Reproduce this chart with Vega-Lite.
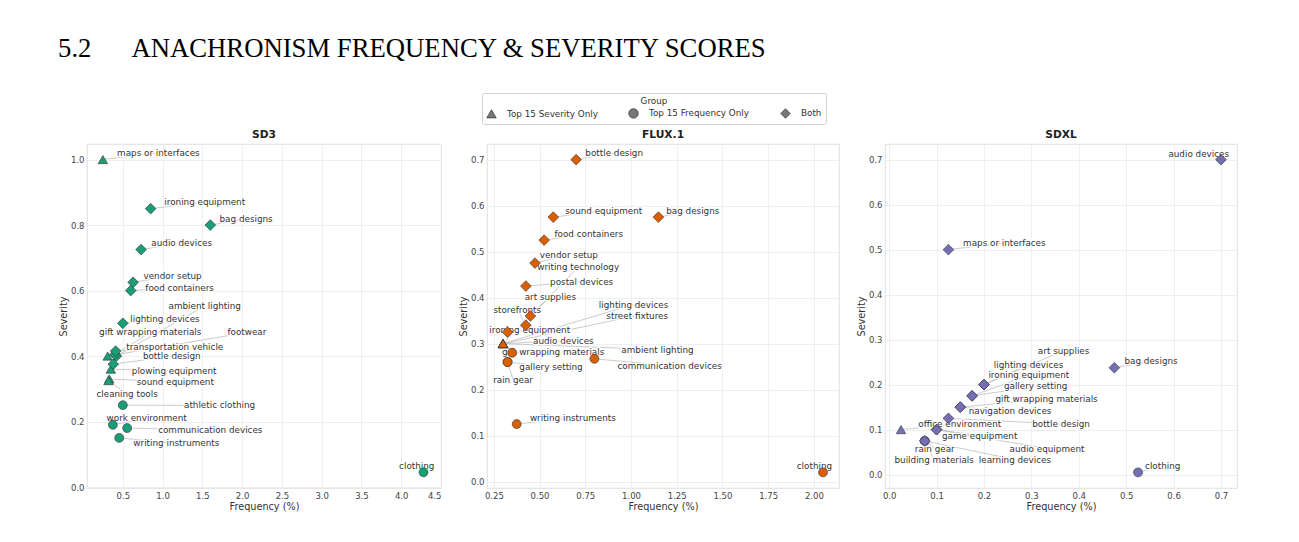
{
  "$schema": "https://vega.github.io/schema/vega-lite/v6.json",
  "background": "white",
  "padding": {"left": 58, "top": 35, "right": 5, "bottom": 5},
  "title": {"text": "5.2\u00a0\u00a0\u00a0\u00a0\u00a0\u00a0ANACHRONISM FREQUENCY & SEVERITY SCORES", "anchor": "start", "frame": "bounds", "font": "Liberation Serif", "fontSize": 26.7, "fontWeight": "normal", "color": "#000000", "offset": 30},
  "data": {"values": [
    {"model": "SD3", "item": "maps or interfaces", "group": "Top 15 Severity Only", "frequency": 0.25, "severity": 1.0, "label_x": 0.947, "label_y": 1.021},
    {"model": "SD3", "item": "ironing equipment", "group": "Both", "frequency": 0.85, "severity": 0.85, "label_x": 1.53, "label_y": 0.87},
    {"model": "SD3", "item": "bag designs", "group": "Both", "frequency": 1.6, "severity": 0.8, "label_x": 2.05, "label_y": 0.819},
    {"model": "SD3", "item": "audio devices", "group": "Both", "frequency": 0.73, "severity": 0.725, "label_x": 1.24, "label_y": 0.745},
    {"model": "SD3", "item": "vendor setup", "group": "Both", "frequency": 0.63, "severity": 0.625, "label_x": 1.126, "label_y": 0.645},
    {"model": "SD3", "item": "food containers", "group": "Both", "frequency": 0.6, "severity": 0.6, "label_x": 1.214, "label_y": 0.609},
    {"model": "SD3", "item": "lighting devices", "group": "Both", "frequency": 0.5, "severity": 0.5, "label_x": 1.03, "label_y": 0.513},
    {"model": "SD3", "item": "ambient lighting", "group": "Both", "frequency": 0.42, "severity": 0.4, "label_x": 1.53, "label_y": 0.553},
    {"model": "SD3", "item": "gift wrapping materials", "group": "Both", "frequency": 0.4, "severity": 0.405, "label_x": 0.845, "label_y": 0.472},
    {"model": "SD3", "item": "footwear", "group": "Top 15 Severity Only", "frequency": 0.31, "severity": 0.4, "label_x": 2.06, "label_y": 0.472},
    {"model": "SD3", "item": "transportation vehicle", "group": "Both", "frequency": 0.41, "severity": 0.415, "label_x": 1.153, "label_y": 0.429},
    {"model": "SD3", "item": "bottle design", "group": "Both", "frequency": 0.38, "severity": 0.375, "label_x": 1.115, "label_y": 0.4},
    {"model": "SD3", "item": "plowing equipment", "group": "Top 15 Severity Only", "frequency": 0.35, "severity": 0.36, "label_x": 1.145, "label_y": 0.355},
    {"model": "SD3", "item": "sound equipment", "group": "Top 15 Severity Only", "frequency": 0.33, "severity": 0.33, "label_x": 1.16, "label_y": 0.32},
    {"model": "SD3", "item": "cleaning tools", "group": "Top 15 Severity Only", "frequency": 0.32, "severity": 0.325, "label_x": 0.554, "label_y": 0.284},
    {"model": "SD3", "item": "athletic clothing", "group": "Top 15 Frequency Only", "frequency": 0.5, "severity": 0.25, "label_x": 1.716, "label_y": 0.249},
    {"model": "SD3", "item": "work environment", "group": "Top 15 Frequency Only", "frequency": 0.375, "severity": 0.19, "label_x": 0.8, "label_y": 0.2095},
    {"model": "SD3", "item": "communication devices", "group": "Top 15 Frequency Only", "frequency": 0.555, "severity": 0.18, "label_x": 1.6, "label_y": 0.174},
    {"model": "SD3", "item": "writing instruments", "group": "Top 15 Frequency Only", "frequency": 0.455, "severity": 0.15, "label_x": 1.173, "label_y": 0.133},
    {"model": "SD3", "item": "clothing", "group": "Top 15 Frequency Only", "frequency": 4.28, "severity": 0.045, "label_x": 4.195, "label_y": 0.064},

    {"model": "FLUX.1", "item": "bottle design", "group": "Both", "frequency": 0.7, "severity": 0.7, "label_x": 0.908, "label_y": 0.7146},
    {"model": "FLUX.1", "item": "sound equipment", "group": "Both", "frequency": 0.575, "severity": 0.575, "label_x": 0.851, "label_y": 0.589},
    {"model": "FLUX.1", "item": "bag designs", "group": "Both", "frequency": 1.15, "severity": 0.575, "label_x": 1.338, "label_y": 0.589},
    {"model": "FLUX.1", "item": "food containers", "group": "Both", "frequency": 0.525, "severity": 0.525, "label_x": 0.769, "label_y": 0.539},
    {"model": "FLUX.1", "item": "vendor setup", "group": "Both", "frequency": 0.475, "severity": 0.475, "label_x": 0.66, "label_y": 0.493},
    {"model": "FLUX.1", "item": "writing technology", "group": "Top 15 Severity Only", "frequency": 0.3, "severity": 0.3, "label_x": 0.711, "label_y": 0.466},
    {"model": "FLUX.1", "item": "postal devices", "group": "Both", "frequency": 0.425, "severity": 0.425, "label_x": 0.73, "label_y": 0.435},
    {"model": "FLUX.1", "item": "art supplies", "group": "Both", "frequency": 0.45, "severity": 0.36, "label_x": 0.559, "label_y": 0.402},
    {"model": "FLUX.1", "item": "storefronts", "group": "Both", "frequency": 0.425, "severity": 0.34, "label_x": 0.378, "label_y": 0.374},
    {"model": "FLUX.1", "item": "lighting devices", "group": "Top 15 Severity Only", "frequency": 0.3, "severity": 0.3, "label_x": 1.014, "label_y": 0.385},
    {"model": "FLUX.1", "item": "street fixtures", "group": "Top 15 Severity Only", "frequency": 0.3, "severity": 0.3, "label_x": 1.034, "label_y": 0.361},
    {"model": "FLUX.1", "item": "ironing equipment", "group": "Both", "frequency": 0.325, "severity": 0.325, "label_x": 0.446, "label_y": 0.329},
    {"model": "FLUX.1", "item": "audio devices", "group": "Top 15 Severity Only", "frequency": 0.3, "severity": 0.3, "label_x": 0.63, "label_y": 0.3065},
    {"model": "FLUX.1", "item": "gift wrapping materials", "group": "Top 15 Frequency Only", "frequency": 0.35, "severity": 0.28, "label_x": 0.574, "label_y": 0.281},
    {"model": "FLUX.1", "item": "ambient lighting", "group": "Top 15 Severity Only", "frequency": 0.3, "severity": 0.3, "label_x": 1.145, "label_y": 0.287},
    {"model": "FLUX.1", "item": "gallery setting", "group": "Top 15 Frequency Only", "frequency": 0.325, "severity": 0.26, "label_x": 0.5625, "label_y": 0.2485},
    {"model": "FLUX.1", "item": "communication devices", "group": "Top 15 Frequency Only", "frequency": 0.8, "severity": 0.267, "label_x": 1.211, "label_y": 0.252},
    {"model": "FLUX.1", "item": "rain gear", "group": "Top 15 Frequency Only", "frequency": 0.325, "severity": 0.26, "label_x": 0.355, "label_y": 0.2217},
    {"model": "FLUX.1", "item": "writing instruments", "group": "Top 15 Frequency Only", "frequency": 0.375, "severity": 0.125, "label_x": 0.682, "label_y": 0.1385},
    {"model": "FLUX.1", "item": "clothing", "group": "Top 15 Frequency Only", "frequency": 2.05, "severity": 0.02, "label_x": 2.003, "label_y": 0.0348},

    {"model": "SDXL", "item": "audio devices", "group": "Both", "frequency": 0.7, "severity": 0.7, "label_x": 0.653, "label_y": 0.713},
    {"model": "SDXL", "item": "maps or interfaces", "group": "Both", "frequency": 0.125, "severity": 0.5, "label_x": 0.243, "label_y": 0.515},
    {"model": "SDXL", "item": "bag designs", "group": "Both", "frequency": 0.475, "severity": 0.2375, "label_x": 0.5525, "label_y": 0.252},
    {"model": "SDXL", "item": "clothing", "group": "Top 15 Frequency Only", "frequency": 0.525, "severity": 0.005, "label_x": 0.577, "label_y": 0.02},
    {"model": "SDXL", "item": "art supplies", "group": "Both", "frequency": 0.2, "severity": 0.2, "label_x": 0.368, "label_y": 0.2756},
    {"model": "SDXL", "item": "lighting devices", "group": "Both", "frequency": 0.2, "severity": 0.2, "label_x": 0.294, "label_y": 0.2444},
    {"model": "SDXL", "item": "ironing equipment", "group": "Both", "frequency": 0.175, "severity": 0.175, "label_x": 0.2946, "label_y": 0.2207},
    {"model": "SDXL", "item": "gallery setting", "group": "Both", "frequency": 0.175, "severity": 0.175, "label_x": 0.309, "label_y": 0.196},
    {"model": "SDXL", "item": "gift wrapping materials", "group": "Both", "frequency": 0.15, "severity": 0.15, "label_x": 0.332, "label_y": 0.168},
    {"model": "SDXL", "item": "navigation devices", "group": "Both", "frequency": 0.15, "severity": 0.15, "label_x": 0.255, "label_y": 0.1407},
    {"model": "SDXL", "item": "bottle design", "group": "Both", "frequency": 0.125, "severity": 0.125, "label_x": 0.3626, "label_y": 0.1126},
    {"model": "SDXL", "item": "office environment", "group": "Top 15 Severity Only", "frequency": 0.025, "severity": 0.1, "label_x": 0.149, "label_y": 0.1133},
    {"model": "SDXL", "item": "game equipment", "group": "Both", "frequency": 0.1, "severity": 0.1, "label_x": 0.191, "label_y": 0.0867},
    {"model": "SDXL", "item": "audio equipment", "group": "Both", "frequency": 0.1, "severity": 0.1, "label_x": 0.333, "label_y": 0.0578},
    {"model": "SDXL", "item": "rain gear", "group": "Both", "frequency": 0.075, "severity": 0.075, "label_x": 0.0962, "label_y": 0.0578},
    {"model": "SDXL", "item": "building materials", "group": "Top 15 Frequency Only", "frequency": 0.075, "severity": 0.075, "label_x": 0.095, "label_y": 0.0333},
    {"model": "SDXL", "item": "learning devices", "group": "Top 15 Frequency Only", "frequency": 0.075, "severity": 0.075, "label_x": 0.2653, "label_y": 0.0333}
  ]},
  "bounds": "flush",
  "spacing": 46,
  "resolve": {"scale": {"shape": "shared", "fill": "shared"}, "legend": {"shape": "shared"}},
  "hconcat": [
    {
      "width": 354, "height": 344,
      "title": {"text": "SD3"},
      "transform": [{"filter": "datum.model === 'SD3'"}],
      "layer": [
        {"mark": {"type": "rule", "color": "#b5b5b5", "strokeWidth": 0.7},
         "encoding": {
           "x": {"field": "frequency", "type": "quantitative", "scale": {"domain": [0.05, 4.5], "nice": false, "zero": false}, "axis": {"title": "Frequency (%)", "values": [0.5, 1.0, 1.5, 2.0, 2.5, 3.0, 3.5, 4.0, 4.5], "format": ".1f"}},
           "y": {"field": "severity", "type": "quantitative", "scale": {"domain": [-0.003, 1.0475], "nice": false, "zero": false}, "axis": {"title": "Severity", "values": [0, 0.2, 0.4, 0.6, 0.8, 1.0], "format": ".1f"}},
           "x2": {"field": "label_x"}, "y2": {"field": "label_y"}}},
        {"mark": {"type": "text", "stroke": "white", "strokeWidth": 2.5, "strokeJoin": "round", "fill": "white", "fontSize": 8.8, "font": "DejaVu Sans", "align": "center", "baseline": "middle"},
         "encoding": {
           "x": {"field": "label_x", "type": "quantitative", "scale": {"domain": [0.05, 4.5], "nice": false, "zero": false}, "axis": {"title": "Frequency (%)", "values": [0.5, 1.0, 1.5, 2.0, 2.5, 3.0, 3.5, 4.0, 4.5], "format": ".1f"}},
           "y": {"field": "label_y", "type": "quantitative", "scale": {"domain": [-0.003, 1.0475], "nice": false, "zero": false}, "axis": {"title": "Severity", "values": [0, 0.2, 0.4, 0.6, 0.8, 1.0], "format": ".1f"}},
           "text": {"field": "item"}}},
        {"mark": {"type": "text", "fill": "#333333", "fontSize": 8.8, "font": "DejaVu Sans", "align": "center", "baseline": "middle"},
         "encoding": {
           "x": {"field": "label_x", "type": "quantitative", "scale": {"domain": [0.05, 4.5], "nice": false, "zero": false}, "axis": {"title": "Frequency (%)", "values": [0.5, 1.0, 1.5, 2.0, 2.5, 3.0, 3.5, 4.0, 4.5], "format": ".1f"}},
           "y": {"field": "label_y", "type": "quantitative", "scale": {"domain": [-0.003, 1.0475], "nice": false, "zero": false}, "axis": {"title": "Severity", "values": [0, 0.2, 0.4, 0.6, 0.8, 1.0], "format": ".1f"}},
           "text": {"field": "item"}}},
        {"transform": [{"filter": {"field": "group", "equal": "Top 15 Frequency Only"}}],
         "mark": {"type": "point", "filled": true, "stroke": "#333333", "strokeWidth": 0.6, "opacity": 1, "size": 80},
         "encoding": {
           "x": {"field": "frequency", "type": "quantitative", "scale": {"domain": [0.05, 4.5], "nice": false, "zero": false}, "axis": {"title": "Frequency (%)", "values": [0.5, 1.0, 1.5, 2.0, 2.5, 3.0, 3.5, 4.0, 4.5], "format": ".1f"}},
           "y": {"field": "severity", "type": "quantitative", "scale": {"domain": [-0.003, 1.0475], "nice": false, "zero": false}, "axis": {"title": "Severity", "values": [0, 0.2, 0.4, 0.6, 0.8, 1.0], "format": ".1f"}},
           "fill": {"field": "model", "type": "nominal", "scale": {"domain": ["SD3", "FLUX.1", "SDXL"], "range": ["#1b9e77", "#d95f02", "#7570b3"]}, "legend": null},
           "shape": {"field": "group", "type": "nominal", "scale": {"domain": ["Top 15 Severity Only", "Top 15 Frequency Only", "Both"], "range": ["triangle-up", "circle", "diamond"]},
             "legend": {"title": "Group", "orient": "none", "legendX": 395, "legendY": -51, "direction": "horizontal", "titleAnchor": "middle", "titleOrient": "top", "titlePadding": 2, "symbolSize": 90, "symbolFillColor": "#777777", "symbolStrokeColor": "#333333", "symbolStrokeWidth": 0.7, "strokeColor": "#d0d0d0", "fillColor": "white", "padding": 4, "cornerRadius": 2, "columnPadding": 29, "labelOffset": 10}}}},
        {"transform": [{"filter": {"field": "group", "equal": "Top 15 Severity Only"}}],
         "mark": {"type": "point", "filled": true, "stroke": "#333333", "strokeWidth": 0.6, "opacity": 1, "size": 90},
         "encoding": {
           "x": {"field": "frequency", "type": "quantitative", "scale": {"domain": [0.05, 4.5], "nice": false, "zero": false}, "axis": {"title": "Frequency (%)", "values": [0.5, 1.0, 1.5, 2.0, 2.5, 3.0, 3.5, 4.0, 4.5], "format": ".1f"}},
           "y": {"field": "severity", "type": "quantitative", "scale": {"domain": [-0.003, 1.0475], "nice": false, "zero": false}, "axis": {"title": "Severity", "values": [0, 0.2, 0.4, 0.6, 0.8, 1.0], "format": ".1f"}},
           "fill": {"field": "model", "type": "nominal", "scale": {"domain": ["SD3", "FLUX.1", "SDXL"], "range": ["#1b9e77", "#d95f02", "#7570b3"]}, "legend": null},
           "shape": {"field": "group", "type": "nominal", "scale": {"domain": ["Top 15 Severity Only", "Top 15 Frequency Only", "Both"], "range": ["triangle-up", "circle", "diamond"]},
             "legend": {"title": "Group", "orient": "none", "legendX": 395, "legendY": -51, "direction": "horizontal", "titleAnchor": "middle", "titleOrient": "top", "titlePadding": 2, "symbolSize": 90, "symbolFillColor": "#777777", "symbolStrokeColor": "#333333", "symbolStrokeWidth": 0.7, "strokeColor": "#d0d0d0", "fillColor": "white", "padding": 4, "cornerRadius": 2, "columnPadding": 29, "labelOffset": 10}}}},
        {"transform": [{"filter": {"field": "group", "equal": "Both"}}],
         "mark": {"type": "point", "filled": true, "stroke": "#333333", "strokeWidth": 0.6, "opacity": 1, "size": 115},
         "encoding": {
           "x": {"field": "frequency", "type": "quantitative", "scale": {"domain": [0.05, 4.5], "nice": false, "zero": false}, "axis": {"title": "Frequency (%)", "values": [0.5, 1.0, 1.5, 2.0, 2.5, 3.0, 3.5, 4.0, 4.5], "format": ".1f"}},
           "y": {"field": "severity", "type": "quantitative", "scale": {"domain": [-0.003, 1.0475], "nice": false, "zero": false}, "axis": {"title": "Severity", "values": [0, 0.2, 0.4, 0.6, 0.8, 1.0], "format": ".1f"}},
           "fill": {"field": "model", "type": "nominal", "scale": {"domain": ["SD3", "FLUX.1", "SDXL"], "range": ["#1b9e77", "#d95f02", "#7570b3"]}, "legend": null},
           "shape": {"field": "group", "type": "nominal", "scale": {"domain": ["Top 15 Severity Only", "Top 15 Frequency Only", "Both"], "range": ["triangle-up", "circle", "diamond"]},
             "legend": {"title": "Group", "orient": "none", "legendX": 395, "legendY": -51, "direction": "horizontal", "titleAnchor": "middle", "titleOrient": "top", "titlePadding": 2, "symbolSize": 90, "symbolFillColor": "#777777", "symbolStrokeColor": "#333333", "symbolStrokeWidth": 0.7, "strokeColor": "#d0d0d0", "fillColor": "white", "padding": 4, "cornerRadius": 2, "columnPadding": 29, "labelOffset": 10}}}}
      ]
    },
    {
      "width": 352, "height": 344,
      "title": {"text": "FLUX.1"},
      "transform": [{"filter": "datum.model === 'FLUX.1'"}],
      "layer": [
        {"mark": {"type": "rule", "color": "#b5b5b5", "strokeWidth": 0.7},
         "encoding": {
           "x": {"field": "frequency", "type": "quantitative", "scale": {"domain": [0.2125, 2.1375], "nice": false, "zero": false}, "axis": {"title": "Frequency (%)", "values": [0.25, 0.5, 0.75, 1.0, 1.25, 1.5, 1.75, 2.0], "format": ".2f"}},
           "y": {"field": "severity", "type": "quantitative", "scale": {"domain": [-0.014, 0.734], "nice": false, "zero": false}, "axis": {"title": "Severity", "values": [0, 0.1, 0.2, 0.3, 0.4, 0.5, 0.6, 0.7], "format": ".1f"}},
           "x2": {"field": "label_x"}, "y2": {"field": "label_y"}}},
        {"mark": {"type": "text", "stroke": "white", "strokeWidth": 2.5, "strokeJoin": "round", "fill": "white", "fontSize": 8.8, "font": "DejaVu Sans", "align": "center", "baseline": "middle"},
         "encoding": {
           "x": {"field": "label_x", "type": "quantitative", "scale": {"domain": [0.2125, 2.1375], "nice": false, "zero": false}, "axis": {"title": "Frequency (%)", "values": [0.25, 0.5, 0.75, 1.0, 1.25, 1.5, 1.75, 2.0], "format": ".2f"}},
           "y": {"field": "label_y", "type": "quantitative", "scale": {"domain": [-0.014, 0.734], "nice": false, "zero": false}, "axis": {"title": "Severity", "values": [0, 0.1, 0.2, 0.3, 0.4, 0.5, 0.6, 0.7], "format": ".1f"}},
           "text": {"field": "item"}}},
        {"mark": {"type": "text", "fill": "#333333", "fontSize": 8.8, "font": "DejaVu Sans", "align": "center", "baseline": "middle"},
         "encoding": {
           "x": {"field": "label_x", "type": "quantitative", "scale": {"domain": [0.2125, 2.1375], "nice": false, "zero": false}, "axis": {"title": "Frequency (%)", "values": [0.25, 0.5, 0.75, 1.0, 1.25, 1.5, 1.75, 2.0], "format": ".2f"}},
           "y": {"field": "label_y", "type": "quantitative", "scale": {"domain": [-0.014, 0.734], "nice": false, "zero": false}, "axis": {"title": "Severity", "values": [0, 0.1, 0.2, 0.3, 0.4, 0.5, 0.6, 0.7], "format": ".1f"}},
           "text": {"field": "item"}}},
        {"transform": [{"filter": {"field": "group", "equal": "Top 15 Frequency Only"}}],
         "mark": {"type": "point", "filled": true, "stroke": "#333333", "strokeWidth": 0.6, "opacity": 1, "size": 80},
         "encoding": {
           "x": {"field": "frequency", "type": "quantitative", "scale": {"domain": [0.2125, 2.1375], "nice": false, "zero": false}, "axis": {"title": "Frequency (%)", "values": [0.25, 0.5, 0.75, 1.0, 1.25, 1.5, 1.75, 2.0], "format": ".2f"}},
           "y": {"field": "severity", "type": "quantitative", "scale": {"domain": [-0.014, 0.734], "nice": false, "zero": false}, "axis": {"title": "Severity", "values": [0, 0.1, 0.2, 0.3, 0.4, 0.5, 0.6, 0.7], "format": ".1f"}},
           "fill": {"field": "model", "type": "nominal", "scale": {"domain": ["SD3", "FLUX.1", "SDXL"], "range": ["#1b9e77", "#d95f02", "#7570b3"]}, "legend": null},
           "shape": {"field": "group", "type": "nominal", "scale": {"domain": ["Top 15 Severity Only", "Top 15 Frequency Only", "Both"], "range": ["triangle-up", "circle", "diamond"]},
             "legend": {"title": "Group", "orient": "none", "legendX": 395, "legendY": -51, "direction": "horizontal", "titleAnchor": "middle", "titleOrient": "top", "titlePadding": 2, "symbolSize": 90, "symbolFillColor": "#777777", "symbolStrokeColor": "#333333", "symbolStrokeWidth": 0.7, "strokeColor": "#d0d0d0", "fillColor": "white", "padding": 4, "cornerRadius": 2, "columnPadding": 29, "labelOffset": 10}}}},
        {"transform": [{"filter": {"field": "group", "equal": "Top 15 Severity Only"}}],
         "mark": {"type": "point", "filled": true, "stroke": "#333333", "strokeWidth": 0.6, "opacity": 1, "size": 90},
         "encoding": {
           "x": {"field": "frequency", "type": "quantitative", "scale": {"domain": [0.2125, 2.1375], "nice": false, "zero": false}, "axis": {"title": "Frequency (%)", "values": [0.25, 0.5, 0.75, 1.0, 1.25, 1.5, 1.75, 2.0], "format": ".2f"}},
           "y": {"field": "severity", "type": "quantitative", "scale": {"domain": [-0.014, 0.734], "nice": false, "zero": false}, "axis": {"title": "Severity", "values": [0, 0.1, 0.2, 0.3, 0.4, 0.5, 0.6, 0.7], "format": ".1f"}},
           "fill": {"field": "model", "type": "nominal", "scale": {"domain": ["SD3", "FLUX.1", "SDXL"], "range": ["#1b9e77", "#d95f02", "#7570b3"]}, "legend": null},
           "shape": {"field": "group", "type": "nominal", "scale": {"domain": ["Top 15 Severity Only", "Top 15 Frequency Only", "Both"], "range": ["triangle-up", "circle", "diamond"]},
             "legend": {"title": "Group", "orient": "none", "legendX": 395, "legendY": -51, "direction": "horizontal", "titleAnchor": "middle", "titleOrient": "top", "titlePadding": 2, "symbolSize": 90, "symbolFillColor": "#777777", "symbolStrokeColor": "#333333", "symbolStrokeWidth": 0.7, "strokeColor": "#d0d0d0", "fillColor": "white", "padding": 4, "cornerRadius": 2, "columnPadding": 29, "labelOffset": 10}}}},
        {"transform": [{"filter": {"field": "group", "equal": "Both"}}],
         "mark": {"type": "point", "filled": true, "stroke": "#333333", "strokeWidth": 0.6, "opacity": 1, "size": 115},
         "encoding": {
           "x": {"field": "frequency", "type": "quantitative", "scale": {"domain": [0.2125, 2.1375], "nice": false, "zero": false}, "axis": {"title": "Frequency (%)", "values": [0.25, 0.5, 0.75, 1.0, 1.25, 1.5, 1.75, 2.0], "format": ".2f"}},
           "y": {"field": "severity", "type": "quantitative", "scale": {"domain": [-0.014, 0.734], "nice": false, "zero": false}, "axis": {"title": "Severity", "values": [0, 0.1, 0.2, 0.3, 0.4, 0.5, 0.6, 0.7], "format": ".1f"}},
           "fill": {"field": "model", "type": "nominal", "scale": {"domain": ["SD3", "FLUX.1", "SDXL"], "range": ["#1b9e77", "#d95f02", "#7570b3"]}, "legend": null},
           "shape": {"field": "group", "type": "nominal", "scale": {"domain": ["Top 15 Severity Only", "Top 15 Frequency Only", "Both"], "range": ["triangle-up", "circle", "diamond"]},
             "legend": {"title": "Group", "orient": "none", "legendX": 395, "legendY": -51, "direction": "horizontal", "titleAnchor": "middle", "titleOrient": "top", "titlePadding": 2, "symbolSize": 90, "symbolFillColor": "#777777", "symbolStrokeColor": "#333333", "symbolStrokeWidth": 0.7, "strokeColor": "#d0d0d0", "fillColor": "white", "padding": 4, "cornerRadius": 2, "columnPadding": 29, "labelOffset": 10}}}}
      ]
    },
    {
      "width": 352, "height": 344,
      "title": {"text": "SDXL"},
      "transform": [{"filter": "datum.model === 'SDXL'"}],
      "layer": [
        {"mark": {"type": "rule", "color": "#b5b5b5", "strokeWidth": 0.7},
         "encoding": {
           "x": {"field": "frequency", "type": "quantitative", "scale": {"domain": [-0.00875, 0.73375], "nice": false, "zero": false}, "axis": {"title": "Frequency (%)", "values": [0, 0.1, 0.2, 0.3, 0.4, 0.5, 0.6, 0.7], "format": ".1f"}},
           "y": {"field": "severity", "type": "quantitative", "scale": {"domain": [-0.02975, 0.73475], "nice": false, "zero": false}, "axis": {"title": "Severity", "values": [0, 0.1, 0.2, 0.3, 0.4, 0.5, 0.6, 0.7], "format": ".1f"}},
           "x2": {"field": "label_x"}, "y2": {"field": "label_y"}}},
        {"mark": {"type": "text", "stroke": "white", "strokeWidth": 2.5, "strokeJoin": "round", "fill": "white", "fontSize": 8.8, "font": "DejaVu Sans", "align": "center", "baseline": "middle"},
         "encoding": {
           "x": {"field": "label_x", "type": "quantitative", "scale": {"domain": [-0.00875, 0.73375], "nice": false, "zero": false}, "axis": {"title": "Frequency (%)", "values": [0, 0.1, 0.2, 0.3, 0.4, 0.5, 0.6, 0.7], "format": ".1f"}},
           "y": {"field": "label_y", "type": "quantitative", "scale": {"domain": [-0.02975, 0.73475], "nice": false, "zero": false}, "axis": {"title": "Severity", "values": [0, 0.1, 0.2, 0.3, 0.4, 0.5, 0.6, 0.7], "format": ".1f"}},
           "text": {"field": "item"}}},
        {"mark": {"type": "text", "fill": "#333333", "fontSize": 8.8, "font": "DejaVu Sans", "align": "center", "baseline": "middle"},
         "encoding": {
           "x": {"field": "label_x", "type": "quantitative", "scale": {"domain": [-0.00875, 0.73375], "nice": false, "zero": false}, "axis": {"title": "Frequency (%)", "values": [0, 0.1, 0.2, 0.3, 0.4, 0.5, 0.6, 0.7], "format": ".1f"}},
           "y": {"field": "label_y", "type": "quantitative", "scale": {"domain": [-0.02975, 0.73475], "nice": false, "zero": false}, "axis": {"title": "Severity", "values": [0, 0.1, 0.2, 0.3, 0.4, 0.5, 0.6, 0.7], "format": ".1f"}},
           "text": {"field": "item"}}},
        {"transform": [{"filter": {"field": "group", "equal": "Top 15 Frequency Only"}}],
         "mark": {"type": "point", "filled": true, "stroke": "#333333", "strokeWidth": 0.6, "opacity": 1, "size": 80},
         "encoding": {
           "x": {"field": "frequency", "type": "quantitative", "scale": {"domain": [-0.00875, 0.73375], "nice": false, "zero": false}, "axis": {"title": "Frequency (%)", "values": [0, 0.1, 0.2, 0.3, 0.4, 0.5, 0.6, 0.7], "format": ".1f"}},
           "y": {"field": "severity", "type": "quantitative", "scale": {"domain": [-0.02975, 0.73475], "nice": false, "zero": false}, "axis": {"title": "Severity", "values": [0, 0.1, 0.2, 0.3, 0.4, 0.5, 0.6, 0.7], "format": ".1f"}},
           "fill": {"field": "model", "type": "nominal", "scale": {"domain": ["SD3", "FLUX.1", "SDXL"], "range": ["#1b9e77", "#d95f02", "#7570b3"]}, "legend": null},
           "shape": {"field": "group", "type": "nominal", "scale": {"domain": ["Top 15 Severity Only", "Top 15 Frequency Only", "Both"], "range": ["triangle-up", "circle", "diamond"]},
             "legend": {"title": "Group", "orient": "none", "legendX": 395, "legendY": -51, "direction": "horizontal", "titleAnchor": "middle", "titleOrient": "top", "titlePadding": 2, "symbolSize": 90, "symbolFillColor": "#777777", "symbolStrokeColor": "#333333", "symbolStrokeWidth": 0.7, "strokeColor": "#d0d0d0", "fillColor": "white", "padding": 4, "cornerRadius": 2, "columnPadding": 29, "labelOffset": 10}}}},
        {"transform": [{"filter": {"field": "group", "equal": "Top 15 Severity Only"}}],
         "mark": {"type": "point", "filled": true, "stroke": "#333333", "strokeWidth": 0.6, "opacity": 1, "size": 90},
         "encoding": {
           "x": {"field": "frequency", "type": "quantitative", "scale": {"domain": [-0.00875, 0.73375], "nice": false, "zero": false}, "axis": {"title": "Frequency (%)", "values": [0, 0.1, 0.2, 0.3, 0.4, 0.5, 0.6, 0.7], "format": ".1f"}},
           "y": {"field": "severity", "type": "quantitative", "scale": {"domain": [-0.02975, 0.73475], "nice": false, "zero": false}, "axis": {"title": "Severity", "values": [0, 0.1, 0.2, 0.3, 0.4, 0.5, 0.6, 0.7], "format": ".1f"}},
           "fill": {"field": "model", "type": "nominal", "scale": {"domain": ["SD3", "FLUX.1", "SDXL"], "range": ["#1b9e77", "#d95f02", "#7570b3"]}, "legend": null},
           "shape": {"field": "group", "type": "nominal", "scale": {"domain": ["Top 15 Severity Only", "Top 15 Frequency Only", "Both"], "range": ["triangle-up", "circle", "diamond"]},
             "legend": {"title": "Group", "orient": "none", "legendX": 395, "legendY": -51, "direction": "horizontal", "titleAnchor": "middle", "titleOrient": "top", "titlePadding": 2, "symbolSize": 90, "symbolFillColor": "#777777", "symbolStrokeColor": "#333333", "symbolStrokeWidth": 0.7, "strokeColor": "#d0d0d0", "fillColor": "white", "padding": 4, "cornerRadius": 2, "columnPadding": 29, "labelOffset": 10}}}},
        {"transform": [{"filter": {"field": "group", "equal": "Both"}}],
         "mark": {"type": "point", "filled": true, "stroke": "#333333", "strokeWidth": 0.6, "opacity": 1, "size": 115},
         "encoding": {
           "x": {"field": "frequency", "type": "quantitative", "scale": {"domain": [-0.00875, 0.73375], "nice": false, "zero": false}, "axis": {"title": "Frequency (%)", "values": [0, 0.1, 0.2, 0.3, 0.4, 0.5, 0.6, 0.7], "format": ".1f"}},
           "y": {"field": "severity", "type": "quantitative", "scale": {"domain": [-0.02975, 0.73475], "nice": false, "zero": false}, "axis": {"title": "Severity", "values": [0, 0.1, 0.2, 0.3, 0.4, 0.5, 0.6, 0.7], "format": ".1f"}},
           "fill": {"field": "model", "type": "nominal", "scale": {"domain": ["SD3", "FLUX.1", "SDXL"], "range": ["#1b9e77", "#d95f02", "#7570b3"]}, "legend": null},
           "shape": {"field": "group", "type": "nominal", "scale": {"domain": ["Top 15 Severity Only", "Top 15 Frequency Only", "Both"], "range": ["triangle-up", "circle", "diamond"]},
             "legend": {"title": "Group", "orient": "none", "legendX": 395, "legendY": -51, "direction": "horizontal", "titleAnchor": "middle", "titleOrient": "top", "titlePadding": 2, "symbolSize": 90, "symbolFillColor": "#777777", "symbolStrokeColor": "#333333", "symbolStrokeWidth": 0.7, "strokeColor": "#d0d0d0", "fillColor": "white", "padding": 4, "cornerRadius": 2, "columnPadding": 29, "labelOffset": 10}}}}
      ]
    }
  ],
  "config": {
    "font": "DejaVu Sans",
    "view": {"stroke": "#d8d8d8", "strokeWidth": 0.8},
    "axis": {"grid": true, "gridColor": "#ebebeb", "gridWidth": 0.8, "domain": false, "ticks": false, "labelFont": "DejaVu Sans", "labelFontSize": 8.5, "labelColor": "#444444", "labelPadding": 3, "titleFont": "DejaVu Sans", "titleFontSize": 9.7, "titleFontWeight": "normal", "titleColor": "#333333", "titlePadding": 2},
    "title": {"font": "DejaVu Sans", "fontSize": 10.7, "fontWeight": "bold", "color": "#222222", "offset": 3},
    "legend": {"titleFont": "DejaVu Sans", "titleFontSize": 8.8, "titleFontWeight": "normal", "titleColor": "#333333", "labelFont": "DejaVu Sans", "labelFontSize": 8.8, "labelColor": "#333333"}
  }
}
